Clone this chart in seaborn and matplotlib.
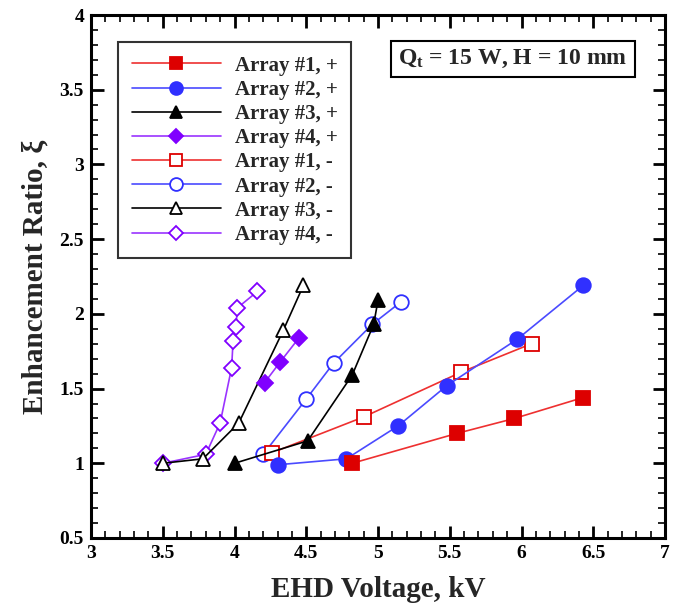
import matplotlib
matplotlib.use("Agg")
import matplotlib.pyplot as plt
import seaborn as sns
import pandas as pd
from matplotlib.ticker import MultipleLocator, FuncFormatter

sns.set_theme(style="ticks")
plt.rcParams['font.family'] = ['Liberation Serif', 'DejaVu Serif']
plt.rcParams['font.weight'] = 'bold'
plt.rcParams['mathtext.fontset'] = 'custom'
plt.rcParams['mathtext.rm'] = 'Liberation Serif:bold'
plt.rcParams['mathtext.it'] = 'Liberation Serif:bold'
plt.rcParams['mathtext.bf'] = 'Liberation Serif:bold'

# ---- data ----
a1p_x = [4.82, 5.55, 5.95, 6.43]
a1p_y = [1.00, 1.20, 1.30, 1.44]
a2p_x = [4.30, 4.78, 5.14, 5.48, 5.97, 6.43]
a2p_y = [0.99, 1.03, 1.25, 1.52, 1.83, 2.19]
a3p_x = [4.00, 4.51, 4.82, 4.97, 5.00]
a3p_y = [1.00, 1.15, 1.59, 1.93, 2.09]
a4p_x = [4.21, 4.32, 4.45]
a4p_y = [1.54, 1.68, 1.84]
a1m_x = [4.26, 4.90, 5.58, 6.07]
a1m_y = [1.07, 1.31, 1.61, 1.80]
a2m_x = [4.20, 4.50, 4.69, 4.96, 5.16]
a2m_y = [1.06, 1.43, 1.67, 1.93, 2.08]
a3m_x = [3.50, 3.78, 4.03, 4.34, 4.48]
a3m_y = [1.00, 1.03, 1.27, 1.89, 2.19]
a4m_x = [3.50, 3.80, 3.90, 3.98, 3.99, 4.01, 4.02, 4.16]
a4m_y = [1.00, 1.06, 1.27, 1.64, 1.82, 1.91, 2.04, 2.15]

labels = ["Array #1, +", "Array #2, +", "Array #3, +", "Array #4, +",
          "Array #1, -", "Array #2, -", "Array #3, -", "Array #4, -"]
xs = [a1p_x, a2p_x, a3p_x, a4p_x, a1m_x, a2m_x, a3m_x, a4m_x]
ys = [a1p_y, a2p_y, a3p_y, a4p_y, a1m_y, a2m_y, a3m_y, a4m_y]

RED, BLUE, BLACK, PURPLE = '#dd0000', '#3030ff', '#000000', '#8000ff'
LRED, LBLUE, LPURPLE = '#ee3030', '#4a4aff', '#9a33ff'
styles = [
    dict(color=LRED, marker='s', mfc=RED, mec=RED),
    dict(color=LBLUE, marker='o', mfc=BLUE, mec=BLUE),
    dict(color=BLACK, marker='^', mfc=BLACK, mec=BLACK),
    dict(color=LPURPLE, marker='D', mfc=PURPLE, mec=PURPLE),
    dict(color=LRED, marker='s', mfc='white', mec=RED),
    dict(color=LBLUE, marker='o', mfc='white', mec=BLUE),
    dict(color=BLACK, marker='^', mfc='white', mec=BLACK),
    dict(color=LPURPLE, marker='D', mfc='white', mec=PURPLE),
]
msizes = [9.5, 10.5, 10.0, 8.5, 9.5, 10.5, 10.5, 8.5]

fig = plt.figure(figsize=(6.83, 6.08), dpi=100)
ax = fig.add_axes([91/683, 70/608, 574/683, 523/608])

for i in range(8):
    df = pd.DataFrame({'x': xs[i], 'y': ys[i]})
    st = styles[i]
    sns.lineplot(data=df, x='x', y='y', ax=ax, sort=False, estimator=None,
                 color=st['color'], marker=st['marker'], markersize=msizes[i],
                 markerfacecolor=st['mfc'], markeredgecolor=st['mec'],
                 markeredgewidth=1.3, linewidth=1.2, label=labels[i],
                 zorder=3 + (7 - i) * 0.1)

ax.set_xlim(3, 7)
ax.set_ylim(0.5, 4)
ax.xaxis.set_major_locator(MultipleLocator(0.5))
ax.xaxis.set_minor_locator(MultipleLocator(0.1))
ax.yaxis.set_major_locator(MultipleLocator(0.5))
ax.yaxis.set_minor_locator(MultipleLocator(0.1))
ax.xaxis.set_major_formatter(FuncFormatter(lambda v, p: f"{v:g}"))
ax.yaxis.set_major_formatter(FuncFormatter(lambda v, p: f"{v:g}"))
ax.tick_params(which='both', direction='in', top=True, right=True, colors='black',
               labelsize=14, pad=5)
ax.tick_params(which='major', length=9, width=2)
ax.tick_params(which='minor', length=5, width=1.2)
for lab in ax.get_xticklabels() + ax.get_yticklabels():
    lab.set_fontweight('bold')
for sp in ax.spines.values():
    sp.set_linewidth(2.2)
    sp.set_color('black')

ax.set_xlabel("EHD Voltage, kV", fontsize=21, fontweight='bold', labelpad=10)
ax.set_ylabel("Enhancement Ratio, ξ", fontsize=21, fontweight='bold', labelpad=8)

leg = ax.legend(loc='upper left', bbox_to_anchor=(0.047, 0.948), borderaxespad=0,
                frameon=True, fancybox=False, handlelength=4.3, handletextpad=0.65,
                labelspacing=0.2, borderpad=0.65, markerscale=0.88,
                prop={'family': 'Liberation Serif', 'weight': 'bold', 'size': 15})
leg.get_frame().set_edgecolor('black')
leg.get_frame().set_linewidth(1.5)

ax.text(0.735, 0.916, r"Q$_t$ = 15 W, H = 10 mm", transform=ax.transAxes,
        ha='center', va='center', fontsize=17, fontweight='bold',
        bbox=dict(boxstyle='square,pad=0.3', fc='white', ec='black', lw=1.5))

fig.savefig("out.png", dpi=100)
